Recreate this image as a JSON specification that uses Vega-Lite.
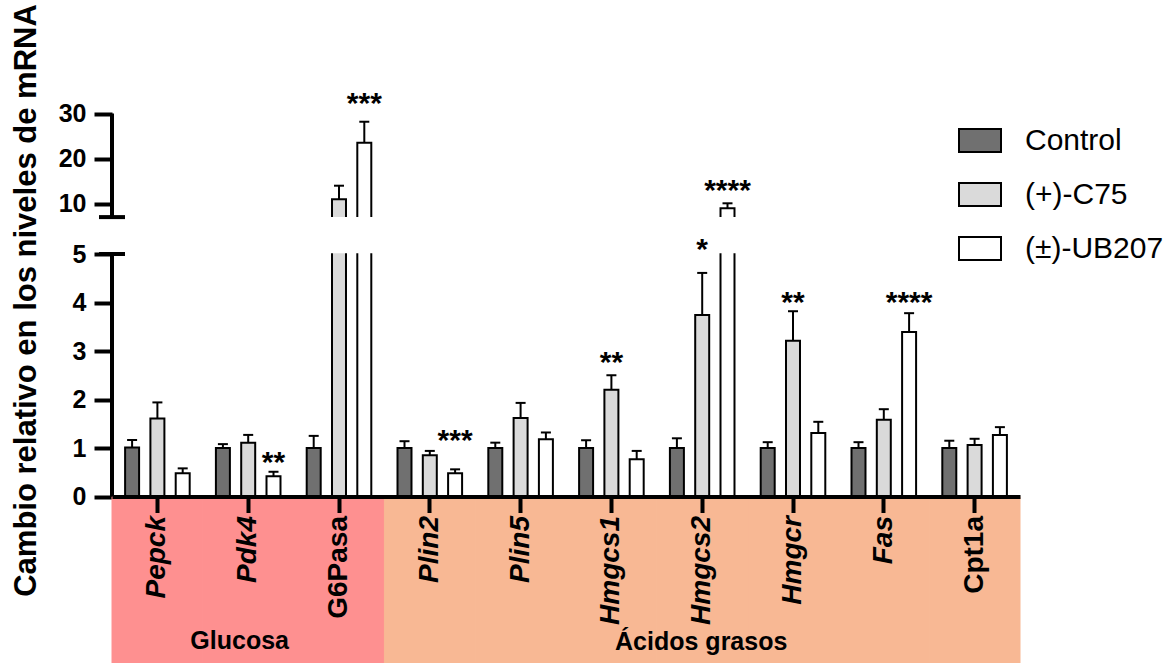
{
  "$schema": "https://vega.github.io/schema/vega-lite/v6.json",
  "width": 908,
  "height": 496.5,
  "autosize": {"type": "none"},
  "padding": {"left": 112, "top": 0, "right": 155, "bottom": 166.5},
  "background": "white",
  "config": {
    "view": {"stroke": null},
    "font": "Liberation Sans",
    "axis": {"grid": false},
    "axisY": {
      "domain": false, "ticks": true, "tickSize": 18, "tickWidth": 4, "tickColor": "black",
      "labelFontSize": 25, "labelFontWeight": "bold", "labelFont": "Liberation Sans", "labelColor": "black", "labelPadding": 8,
      "labelFlush": false, "labelOverlap": false, "zindex": 1,
      "titleFontSize": 31, "titleFontWeight": "bold", "titleFont": "Liberation Sans", "titleColor": "black"
    }
  },
  "datasets": {
    "genes": [
      {"gene": "Pepck", "region": "Glucosa"},
      {"gene": "Pdk4", "region": "Glucosa"},
      {"gene": "G6Pasa", "region": "Glucosa"},
      {"gene": "Plin2", "region": "Ácidos grasos"},
      {"gene": "Plin5", "region": "Ácidos grasos"},
      {"gene": "Hmgcs1", "region": "Ácidos grasos"},
      {"gene": "Hmgcs2", "region": "Ácidos grasos"},
      {"gene": "Hmgcr", "region": "Ácidos grasos"},
      {"gene": "Fas", "region": "Ácidos grasos"},
      {"gene": "Cpt1a", "region": "Ácidos grasos"}
    ],
    "bars": [
      {"gene": "Pepck", "group": "Control", "v": 1.01, "hi": 1.165},
      {"gene": "Pepck", "group": "(+)-C75", "v": 1.61, "hi": 1.94},
      {"gene": "Pepck", "group": "(±)-UB207", "v": 0.48, "hi": 0.58},
      {"gene": "Pdk4", "group": "Control", "v": 1.0, "hi": 1.08},
      {"gene": "Pdk4", "group": "(+)-C75", "v": 1.11, "hi": 1.27},
      {"gene": "Pdk4", "group": "(±)-UB207", "v": 0.42, "hi": 0.51, "star": "**", "sy": 0.856},
      {"gene": "G6Pasa", "group": "Control", "v": 1.0, "hi": 1.25},
      {"gene": "G6Pasa", "group": "(+)-C75", "v": 11.03, "hi": 14.04},
      {"gene": "G6Pasa", "group": "(±)-UB207", "v": 23.54, "hi": 28.18, "star": "***", "sy": 33.8},
      {"gene": "Plin2", "group": "Control", "v": 1.0, "hi": 1.14},
      {"gene": "Plin2", "group": "(+)-C75", "v": 0.85, "hi": 0.94},
      {"gene": "Plin2", "group": "(±)-UB207", "v": 0.48, "hi": 0.56, "star": "***", "sy": 1.3},
      {"gene": "Plin5", "group": "Control", "v": 1.0, "hi": 1.11},
      {"gene": "Plin5", "group": "(+)-C75", "v": 1.62, "hi": 1.93},
      {"gene": "Plin5", "group": "(±)-UB207", "v": 1.18, "hi": 1.32},
      {"gene": "Hmgcs1", "group": "Control", "v": 1.0, "hi": 1.16},
      {"gene": "Hmgcs1", "group": "(+)-C75", "v": 2.2, "hi": 2.5, "star": "**", "sy": 2.92},
      {"gene": "Hmgcs1", "group": "(±)-UB207", "v": 0.77, "hi": 0.94},
      {"gene": "Hmgcs2", "group": "Control", "v": 1.0, "hi": 1.2},
      {"gene": "Hmgcs2", "group": "(+)-C75", "v": 3.74, "hi": 4.61, "star": "*", "sy": 5.7},
      {"gene": "Hmgcs2", "group": "(±)-UB207", "v": 9.04, "hi": 10.15, "star": "****", "sy": 14.57},
      {"gene": "Hmgcr", "group": "Control", "v": 1.0, "hi": 1.12},
      {"gene": "Hmgcr", "group": "(+)-C75", "v": 3.21, "hi": 3.82, "star": "**", "sy": 4.15},
      {"gene": "Hmgcr", "group": "(±)-UB207", "v": 1.31, "hi": 1.54},
      {"gene": "Fas", "group": "Control", "v": 1.0, "hi": 1.12},
      {"gene": "Fas", "group": "(+)-C75", "v": 1.58, "hi": 1.8},
      {"gene": "Fas", "group": "(±)-UB207", "v": 3.39, "hi": 3.78, "star": "****", "sy": 4.15},
      {"gene": "Cpt1a", "group": "Control", "v": 1.0, "hi": 1.15},
      {"gene": "Cpt1a", "group": "(+)-C75", "v": 1.06, "hi": 1.19},
      {"gene": "Cpt1a", "group": "(±)-UB207", "v": 1.27, "hi": 1.43}
    ]
  },
  "resolve": {"scale": {"x": "independent"}, "axis": {"x": "independent"}},
  "layer": [
    {
      "layer": [
        {
          "data": {"name": "genes"},
          "mark": {"type": "rect", "strokeWidth": 1},
          "encoding": {
            "x": {
              "field": "gene", "type": "nominal", "title": null,
              "scale": {"domain": ["Pepck", "Pdk4", "G6Pasa", "Plin2", "Plin5", "Hmgcs1", "Hmgcs2", "Hmgcr", "Fas", "Cpt1a"], "paddingInner": 0, "paddingOuter": 0},
              "axis": {
                "orient": "bottom", "title": null, "domain": true, "domainWidth": 4, "domainColor": "black",
                "ticks": true, "tickSize": 16, "tickWidth": 4, "tickColor": "black",
                "labelAngle": -90, "labelAlign": "right", "labelBaseline": "middle",
                "labelFontSize": 28, "labelFontWeight": "bold", "labelFont": "Liberation Sans",
                "labelFontStyle": {"condition": {"test": "datum.value === 'G6Pasa' || datum.value === 'Cpt1a'", "value": "normal"}, "value": "italic"},
                "labelColor": "black", "labelPadding": 3, "labelLimit": 0, "zindex": 1
              }
            },
            "y": {
              "datum": 0, "type": "quantitative",
              "scale": {"type": "linear", "domain": [-3.42, 0, 5, 7.1, 30], "range": [663, 496.5, 254, 217.1, 113.5], "nice": false, "zero": false},
              "axis": {
                "values": [0, 1, 2, 3, 4, 5, 10, 20, 30],
                "title": "Cambio relativo en los niveles de mRNA",
                "titleAngle": -90, "titleX": -86, "titleY": 300, "titleAlign": "center", "titleBaseline": "middle"
              }
            },
            "y2": {"datum": -3.42},
            "color": {"field": "region", "type": "nominal", "scale": {"domain": ["Glucosa", "Ácidos grasos"], "range": ["#FE9090", "#F8B894"]}, "legend": null},
            "stroke": {"field": "region", "type": "nominal", "scale": {"domain": ["Glucosa", "Ácidos grasos"], "range": ["#FE9090", "#F8B894"]}, "legend": null}
          }
        },
        {
          "data": {"name": "bars"},
          "mark": {"type": "bar", "stroke": "black", "strokeWidth": 2},
          "encoding": {
            "x": {"field": "gene", "type": "nominal", "title": null},
            "xOffset": {"field": "group", "type": "nominal", "scale": {"domain": ["Control", "(+)-C75", "(±)-UB207"], "paddingInner": 0.447, "paddingOuter": 0.518}},
            "y": {"field": "v", "type": "quantitative"},
            "y2": {"datum": 0},
            "fill": {
              "field": "group", "type": "nominal",
              "scale": {"domain": ["Control", "(+)-C75", "(±)-UB207"], "range": ["#707070", "#DADADA", "#FFFFFF"]},
              "legend": {
                "orient": "none", "legendX": 846, "legendY": 118.5, "title": null,
                "symbolType": "M-1,-0.548H1V0.548H-1Z", "symbolSize": 1764, "symbolStrokeColor": "black", "symbolStrokeWidth": 2,
                "labelFontSize": 30, "labelFont": "Liberation Sans", "labelColor": "black", "labelOffset": 23, "rowPadding": 16, "padding": 0, "labelLimit": 300
              }
            }
          }
        },
        {
          "data": {"name": "bars"},
          "mark": {"type": "rule", "strokeWidth": 2, "color": "black"},
          "encoding": {
            "x": {"field": "gene", "type": "nominal", "title": null},
            "xOffset": {"field": "group", "type": "nominal"},
            "y": {"field": "v", "type": "quantitative"},
            "y2": {"field": "hi"}
          }
        },
        {
          "data": {"name": "bars"},
          "mark": {"type": "tick", "thickness": 2, "size": 10, "color": "black", "opacity": 1, "orient": "horizontal"},
          "encoding": {
            "x": {"field": "gene", "type": "nominal", "title": null},
            "xOffset": {"field": "group", "type": "nominal"},
            "y": {"field": "hi", "type": "quantitative"}
          }
        },
        {
          "data": {"values": [{}]},
          "mark": {"type": "rect", "fill": "white"},
          "encoding": {
            "y": {"datum": 5.04, "type": "quantitative"},
            "y2": {"datum": 7.1}
          }
        },
        {
          "data": {"name": "bars"},
          "transform": [{"filter": "datum.star != null"}],
          "mark": {"type": "text", "fontSize": 30, "fontWeight": "bold", "font": "Liberation Sans", "baseline": "alphabetic", "align": "center", "dy": 17, "color": "black"},
          "encoding": {
            "x": {"field": "gene", "type": "nominal", "title": null},
            "xOffset": {"field": "group", "type": "nominal"},
            "y": {"field": "sy", "type": "quantitative"},
            "text": {"field": "star"}
          }
        },
        {
          "data": {"values": [{"gene": "Pdk4", "label": "Glucosa", "at": -3.14}]},
          "mark": {"type": "text", "fontSize": 25, "fontWeight": "bold", "font": "Liberation Sans", "baseline": "alphabetic", "align": "center", "dx": -8.5, "color": "black"},
          "encoding": {
            "x": {"field": "gene", "type": "nominal", "title": null},
            "y": {"field": "at", "type": "quantitative"},
            "text": {"field": "label"}
          }
        },
        {
          "data": {"values": [{"gene": "Hmgcs2", "label": "Ácidos grasos", "at": -3.16}]},
          "mark": {"type": "text", "fontSize": 25, "fontWeight": "bold", "font": "Liberation Sans", "baseline": "alphabetic", "align": "center", "dx": -1, "color": "black"},
          "encoding": {
            "x": {"field": "gene", "type": "nominal", "title": null},
            "y": {"field": "at", "type": "quantitative"},
            "text": {"field": "label"}
          }
        }
      ]
    },
    {
      "layer": [
        {
          "data": {"values": [{"lo": 0, "top": 5}, {"lo": 7.1, "top": 30}]},
          "mark": {"type": "rule", "strokeWidth": 4, "color": "black"},
          "encoding": {
            "x": {"datum": 0, "type": "quantitative", "scale": {"domain": [0, 1]}, "axis": {"orient": "top", "domain": false, "ticks": false, "labels": false, "title": null}},
            "y": {"field": "lo", "type": "quantitative"},
            "y2": {"field": "top"}
          }
        },
        {
          "data": {"values": [{"at": 5}, {"at": 7.1}]},
          "mark": {"type": "tick", "thickness": 4, "size": 26, "color": "black", "opacity": 1, "orient": "horizontal"},
          "encoding": {
            "x": {"datum": 0, "type": "quantitative", "scale": {"domain": [0, 1]}},
            "y": {"field": "at", "type": "quantitative"}
          }
        }
      ]
    }
  ]
}
